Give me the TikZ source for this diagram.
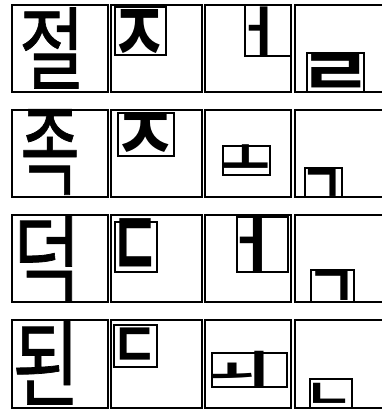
\documentclass[tikz,border=0pt]{standalone}
\usepackage{fontspec}
\usepackage{graphicx}
\newfontfamily\kr{Noto Sans CJK KR}[BoldFont={Noto Sans CJK KR Bold}]
\newfontfamily\krsyl{Noto Sans CJK KR}[FakeBold=0.8]

\tikzset{
  cell/.style={draw,line width=1.8pt},
  part/.style={draw,line width=1.5pt},
  glyph/.style={inner sep=0pt,outer sep=0pt},
}
% fit a glyph so that its ink is about #1 x #2 pt (#3, #4: em box / ink)
\newcommand\fitglyph[5]{%
  \pgfmathsetmacro\gw{#1*#3}\pgfmathsetmacro\gh{#2*#4}%
  \resizebox*{\gw pt}{\gh pt}{#5}}

\begin{document}
\begin{tikzpicture}[x=1pt,y=-1pt]
  \useasboundingbox (0,0) rectangle (382,410);

  % Cells of the four rows
  \foreach \t/\b in {5/92,110/197,215/302,320/408}{
    \draw[cell] (12,\t) rectangle (108,\b);
    \draw[cell] (111,\t) rectangle (202,\b);
    \draw[cell] (205,\t) rectangle (291,\b);
    \draw[cell] (295,\t) rectangle (392,\b);
  }

  % Row 1
  \node[glyph] (syl1) at (52,48) {\fitglyph{61}{75}{1.08}{1.08}{\krsyl 절}};
  \draw[part] (115,7) rectangle (166,55);
  \node[glyph] (ini1) at (140,36) {\fitglyph{44}{40}{1.32}{1.35}{\kr\bfseries ㅈ}};
  \draw[part] (245,5) rectangle (291,56);
  \node[glyph] (med1) at (259,32) {\fitglyph{22}{41}{2.4}{1.2}{\kr\bfseries ㅓ}};
  \draw[part] (307,53) rectangle (364,92);
  \node[glyph] (fin1) at (336,75) {\fitglyph{50}{30}{1.5}{1.4}{\kr\bfseries ㄹ}};

  % Row 2
  \node[glyph] (syl2) at (50,152) {\fitglyph{55}{79}{1.08}{1.08}{\krsyl 족}};
  \draw[part] (118,113) rectangle (174,156);
  \node[glyph] (ini2) at (146,137) {\fitglyph{50}{35}{1.32}{1.4}{\kr\bfseries ㅈ}};
  \draw[part] (223,146) rectangle (270,175);
  \node[glyph] (med2) at (246,161) {\fitglyph{40}{20}{1.22}{1.64}{\kr\bfseries ㅗ}};
  \draw[part] (305,168) rectangle (342,197);
  \node[glyph] (fin2) at (322,186) {\fitglyph{30}{22}{1.45}{1.55}{\kr\bfseries ㄱ}};

  % Row 3
  \node[glyph] (syl3) at (47,258) {\fitglyph{63}{80}{1.08}{1.08}{\krsyl 덕}};
  \draw[part] (115,222) rectangle (157,272);
  \node[glyph] (ini3) at (136,249) {\fitglyph{36}{42}{1.39}{1.45}{\kr\bfseries ㄷ}};
  \draw[part] (237,217) rectangle (288,272);
  \node[glyph] (med3) at (252,244) {\fitglyph{26}{46}{2.4}{1.2}{\kr\bfseries ㅓ}};
  \draw[part] (311,270) rectangle (354,302);
  \node[glyph] (fin3) at (332,289) {\fitglyph{35}{25}{1.45}{1.55}{\kr\bfseries ㄱ}};

  % Row 4
  \node[glyph] (syl4) at (46,363) {\fitglyph{62}{77}{1.08}{1.08}{\krsyl 된}};
  \draw[part] (114,325) rectangle (157,367);
  \node[glyph] (ini4) at (135,348) {\fitglyph{34}{28}{1.39}{1.45}{\kr\bfseries ㄷ}};
  \draw[part] (212,353) rectangle (287,387);
  \node[glyph] (med4) at (238,370) {\fitglyph{48}{30}{1.33}{1.22}{\kr\bfseries ㅚ}};
  \draw[part] (310,379) rectangle (352,408);
  \node[glyph] (fin4) at (329,396) {\fitglyph{32}{21}{1.55}{1.25}{\kr\bfseries ㄴ}};
\end{tikzpicture}
\end{document}
